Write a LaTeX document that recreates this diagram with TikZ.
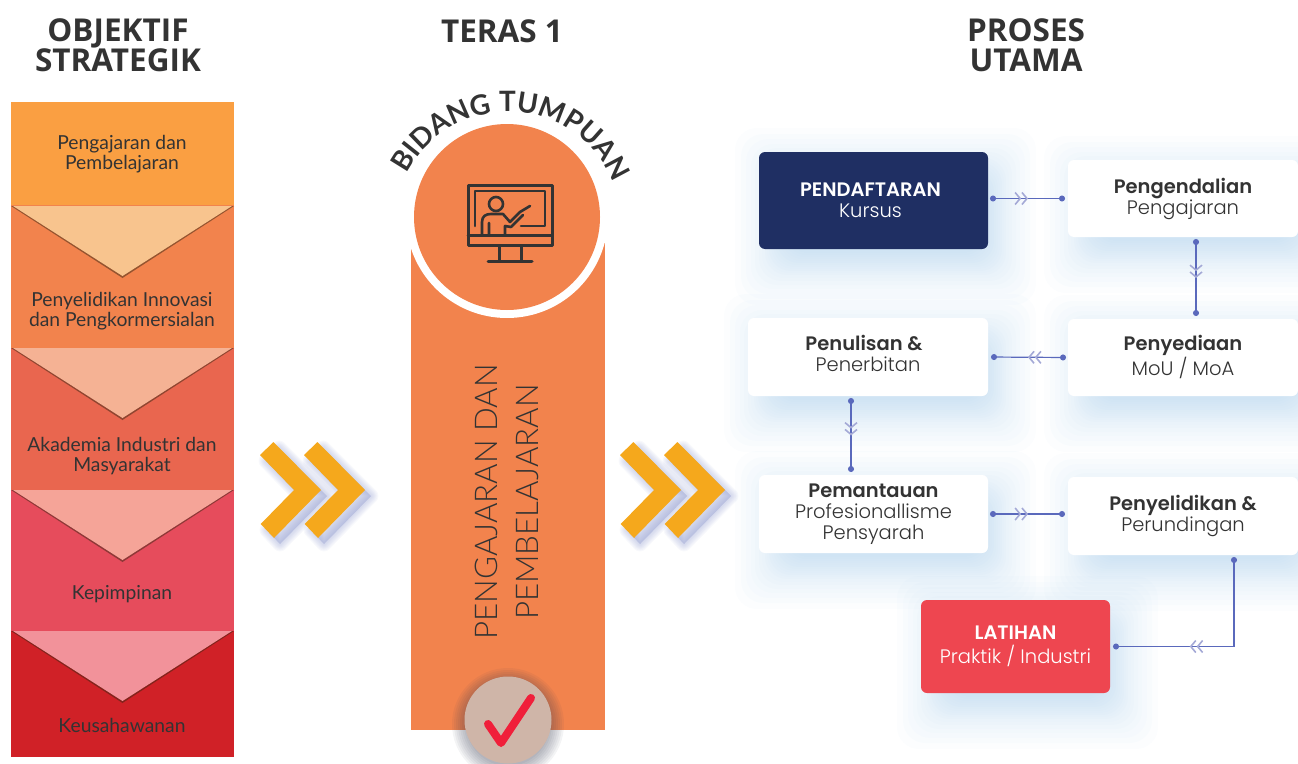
\documentclass[tikz,border=0pt]{standalone}
\usepackage{fontspec}
\setmainfont{Lato}
\newfontfamily\headfont{Open Sans}
\newfontfamily\lightfont{Lato}[UprightFont=* Light]
\newfontfamily\gothicfont{Poppins}[UprightFont=* Light,BoldFont=* SemiBold]
\usetikzlibrary{arrows.meta,backgrounds,decorations.markings,decorations.text}

\definecolor{navy}{HTML}{1F2F63}
\definecolor{coral}{HTML}{EE4650}
\definecolor{pumpkin}{HTML}{F2834D}
\definecolor{amber}{HTML}{F5A81C}
\definecolor{ink}{HTML}{333333}
\definecolor{wire}{HTML}{5A69BC}
\definecolor{wirepale}{HTML}{A4A9D6}
\definecolor{softblue}{HTML}{A0C8E8}
\definecolor{softviolet}{HTML}{8E99CE}
\definecolor{badgetan}{HTML}{CFB5A8}
\definecolor{tickred}{HTML}{F01F3A}

\tikzset{
  headtitle/.style={align=center,text=ink,font=\headfont\bfseries\fontsize{31.5}{30}\selectfont},
  blockbox/.style={minimum width=223,inner sep=0,outer sep=0},
  blocktext/.style={align=center,text=ink,font=\fontsize{19.3}{20}\selectfont},
  flowbox/.style={rounded corners=6,inner sep=0,outer sep=0,align=center,font=\gothicfont\fontsize{19.5}{21}\selectfont},
  lightbox/.style={flowbox,fill=white,text=ink},
  flowlink/.style={wire,line width=1.2,{Circle[length=6]}-{Circle[length=6]},shorten <=2,shorten >=3,
    postaction={decorate},decoration={markings,mark=at position #1 with
    {\arrow[wirepale,line width=1.6]{Straight Barb[length=5,width=12] Straight Barb[length=5,width=12]}}}},
  flowlink/.default=.5
}

\begin{document}
\begin{tikzpicture}[x=1pt,y=-1pt]
\useasboundingbox (0,0) rectangle (1298,763);
% titles
\node[headtitle] (objektif) at (118,45) {OBJEKTIF\\STRATEGIK};
\node[headtitle] (teras) at (502,31) {TERAS 1};
\node[headtitle] (proses) at (1026,45) {PROSES\\UTAMA};
% left column
\foreach \i/\crlr/\mid/\hgt in {1/FA9F42/153.5/103,2/F2834D/276.5/143,3/E9664F/419/142,4/E64C5C/560.5/141,5/D02127/694/126}
{ \definecolor{blockcrlr}{HTML}{\crlr}
  \node[blockbox,fill=blockcrlr,minimum height=\hgt] (block\i) at (122.5,\mid) {}; }
\foreach \top/\crlr in {206/F8C48E,348/F5B294,490/F5A498,631/F2929A}
{ \definecolor{tricrlr}{HTML}{\crlr}
  \fill[black!70!brown,opacity=.5] (11,\top) -- (234,\top) -- (122.5,\top+72) -- cycle;
  \fill[tricrlr] (13,\top) -- (232,\top) -- (122.5,\top+70) -- cycle; }
\node[blocktext] (ajar) at (122,154) {Pengajaran dan\\Pembelajaran};
\node[blocktext] (selidik) at (122,311) {Penyelidikan Innovasi\\dan Pengkormersialan};
\node[blocktext] (akademia) at (122,456) {Akademia Industri dan\\Masyarakat};
\node[blocktext] (pimpin) at (122,594) {Kepimpinan};
\node[blocktext] (usaha) at (122,725) {Keusahawanan};
% double chevrons
\foreach \ox in {0,44,360,404}
{ \begin{scope}[shift={(\ox,0)}]
  \foreach \w in {1,3,...,15}
    \draw[softviolet,opacity=.06,line width=\w,fill=softviolet,line join=round]
      (266,461) -- (279,448) -- (327,496) -- (280,544) -- (267,530) -- (300,496) -- cycle;
  \fill[amber] (260,455) -- (273.5,442) -- (321,490) -- (274,538) -- (260.7,524) -- (294,490) -- cycle;
  \end{scope} }
% centre column
\fill[pumpkin] (411,243) rectangle (605,730);
\fill[white] (507,217) circle[radius=101];
\node[circle,fill=pumpkin,minimum size=186,inner sep=0] (focus) at (507,217) {};
\path[decorate,decoration={text along path,text align=center,
    text={|\bfseries\fontsize{28}{30}\selectfont\color{ink}|BIDANG TUMPUAN}}]
  (394.2,220) arc[start angle=-177,end angle=1.6,radius=114];
% teaching icon
\begin{scope}[ink,line width=2.6,line cap=round,line join=round]
  \draw[line width=3] (468,185) rectangle (552,245);
  \draw[line width=3] (468,235) -- (552,235);
  \draw (482,234) -- (482,222) .. controls (482,216) and (486,214) .. (491,214) -- (503,214)
    -- (510,222) -- (520,212) -- (530,206);
  \draw (475,226) -- (475,191) -- (545,191) -- (545,226) -- (521,226);
  \draw (496,204) circle[radius=7];
  \draw (489,234) -- (489,223) (505,234) -- (505,226) -- (511,227) -- (523,215);
  \draw[line width=3] (499,246) -- (499,260) (521,246) -- (521,260) (488,261) -- (532,261);
\end{scope}
\node[rotate=90,align=center,text=ink,font=\lightfont\fontsize{31.3}{41}\selectfont] (tumpuan) at (507,502)
  {PENGAJARAN DAN\\PEMBELAJARAN};
% tick badge
\foreach \w in {1,3,...,15}
  \fill[black!60!softviolet,opacity=.06] (508,724) circle[radius=41+\w];
\node[circle,fill=badgetan,minimum size=87,inner sep=0] (badge) at (508,720) {};
\draw[tickred,line width=8,line cap=round,line join=round] (488,724) -- (501,743) -- (531,698);
% flow boxes
\node[flowbox,fill=navy,text=white,minimum width=229,minimum height=97] (pendaftaran) at (873.5,200.5) {\textbf{PENDAFTARAN}\hspace*{6pt}\\Kursus\hspace*{6pt}};
\node[lightbox,minimum width=230,minimum height=77] (pengendalian) at (1183,198.5) {\textbf{Pengendalian}\\Pengajaran};
\node[lightbox,minimum width=240,minimum height=78] (penulisan) at (868,357) {\textbf{Penulisan \&}\hspace*{8pt}\\Penerbitan\hspace*{8pt}\\[-14pt]};
\node[lightbox,minimum width=230,minimum height=77] (penyediaan) at (1183,357.5) {\textbf{Penyediaan}\\MoU / MoA\\[-17pt]};
\node[lightbox,minimum width=229,minimum height=78] (pemantauan) at (873.5,514) {\textbf{Pemantauan}\\Profesionallisme\\Pensyarah};
\node[lightbox,minimum width=230,minimum height=78] (penyelidikan) at (1183,516) {\textbf{Penyelidikan \&}\\Perundingan};
\node[flowbox,fill=coral,text=white,minimum width=189,minimum height=93] (latihan) at (1015.5,646.5) {\textbf{LATIHAN}\\[3pt]Praktik / Industri};
\begin{pgfonlayer}{background}
\foreach \boxname in {pendaftaran,pengendalian,penulisan,penyediaan,pemantauan,penyelidikan,latihan}
  \foreach \grow in {-12,-10,...,10,13,16,20,24,29,34,40}
    \fill[softblue,opacity=.035,rounded corners=22]
      ([xshift={(16-\grow)*1pt},yshift={(-16-\grow)*1pt}]\boxname.south west)
      rectangle ([xshift={(8+\grow)*1pt},yshift={(-16+\grow)*1pt}]\boxname.north east);
\end{pgfonlayer}
% links
\draw[flowlink] ([yshift=2]pendaftaran.east) -- (pengendalian.west);
\draw[flowlink] ([xshift=13]pengendalian.south) -- ([xshift=13]penyediaan.north);
\draw[flowlink] (penyediaan.west) -- (penulisan.east);
\draw[flowlink] ([xshift=-17]penulisan.south) -- ([xshift=-22.5]pemantauan.north);
\draw[flowlink] (pemantauan.east) -- ([yshift=2]penyelidikan.west);
\draw[flowlink=.63] ([xshift=51]penyelidikan.south) |- (latihan.east);
\end{tikzpicture}
\end{document}
